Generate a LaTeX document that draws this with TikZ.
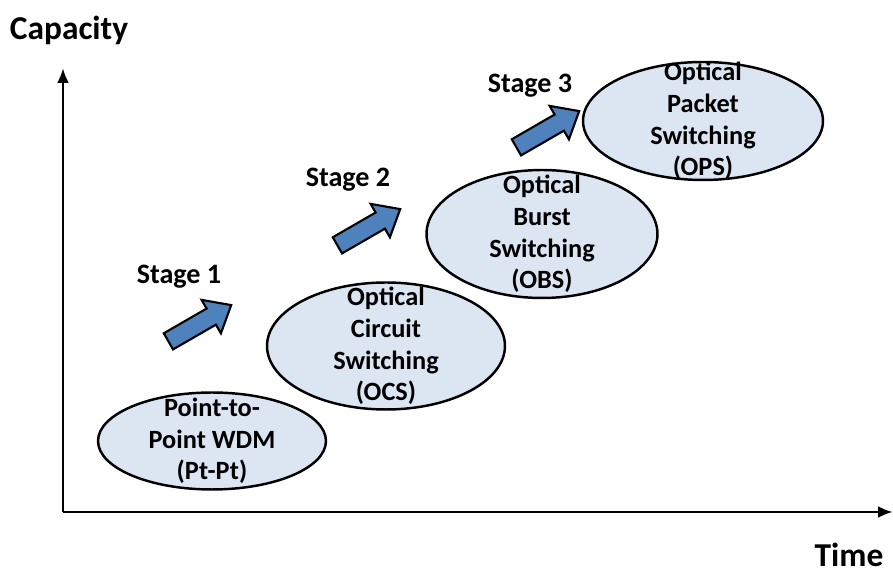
\documentclass[tikz,border=0pt]{standalone}
\usepackage{fontspec}
\setmainfont{Carlito}
\usetikzlibrary{shapes.geometric,shapes.arrows,arrows.meta}

\definecolor{phasefill}{RGB}{220,230,242}
\definecolor{stepblue}{RGB}{79,129,189}

\begin{document}
\begin{tikzpicture}[x=0.02cm, y=-0.02cm,
    axis/.style={line width=1.7pt, -{Latex[length=0.3cm, width=0.24cm]}},
    axislabel/.style={font=\fontsize{19}{22}\selectfont\bfseries, inner sep=1pt},
    phase/.style={ellipse, draw, line width=1.4pt, fill=phasefill, inner sep=0pt},
    phasetext/.style={align=center, font=\fontsize{15}{18}\selectfont\bfseries},
    stagelabel/.style={font=\fontsize{16}{19}\selectfont\bfseries},
    stagearrow/.style={single arrow, draw, line width=1.2pt, fill=stepblue,
        inner sep=0.165cm, minimum height=1.45cm, single arrow head extend=0.2cm,
        single arrow tip angle=80, rotate=30}]
    \useasboundingbox (0,0) rectangle (893,573);

    % Axes
    \coordinate (origin) at (63,512);
    \coordinate (ytop) at (63,68);
    \coordinate (xend) at (893,512);
    \draw[axis] (origin) -- (ytop);
    \draw[axis] (origin) -- (xend);
    \node[axislabel] (cap) at (69,30) {Capacity};
    \node[axislabel] (time) at (849,555) {Time};

    % Switching phases
    \node[phase, minimum width=4.56cm, minimum height=1.94cm] (ptpt) at (212,441) {};
    \node[phasetext] (ptpttext) at (ptpt) {Point-to-\\Point WDM\\(Pt-Pt)};

    \node[phase, minimum width=4.76cm, minimum height=2.54cm] (ocs) at (386,346) {};
    \node[phasetext] (ocstext) at (ocs) {Optical\\Circuit\\Switching\\(OCS)};

    \node[phase, minimum width=4.62cm, minimum height=2.56cm] (obs) at (542,234) {};
    \node[phasetext] (obstext) at (obs) {Optical\\Burst\\Switching\\(OBS)};

    \node[phase, minimum width=4.8cm, minimum height=2.36cm] (ops) at (703,121) {};
    \node[phasetext] (opstext) at (ops) {Optical\\Packet\\Switching\\(OPS)};

    % Stages
    \node[stagearrow] (arrow1) at (195,326) {};
    \node[stagelabel] (stage1) at (179,277) {Stage 1};

    \node[stagearrow] (arrow2) at (364,230) {};
    \node[stagelabel] (stage2) at (348,180) {Stage 2};

    \node[stagearrow] (arrow3) at (543,132) {};
    \node[stagelabel] (stage3) at (530,86) {Stage 3};
\end{tikzpicture}
\end{document}
